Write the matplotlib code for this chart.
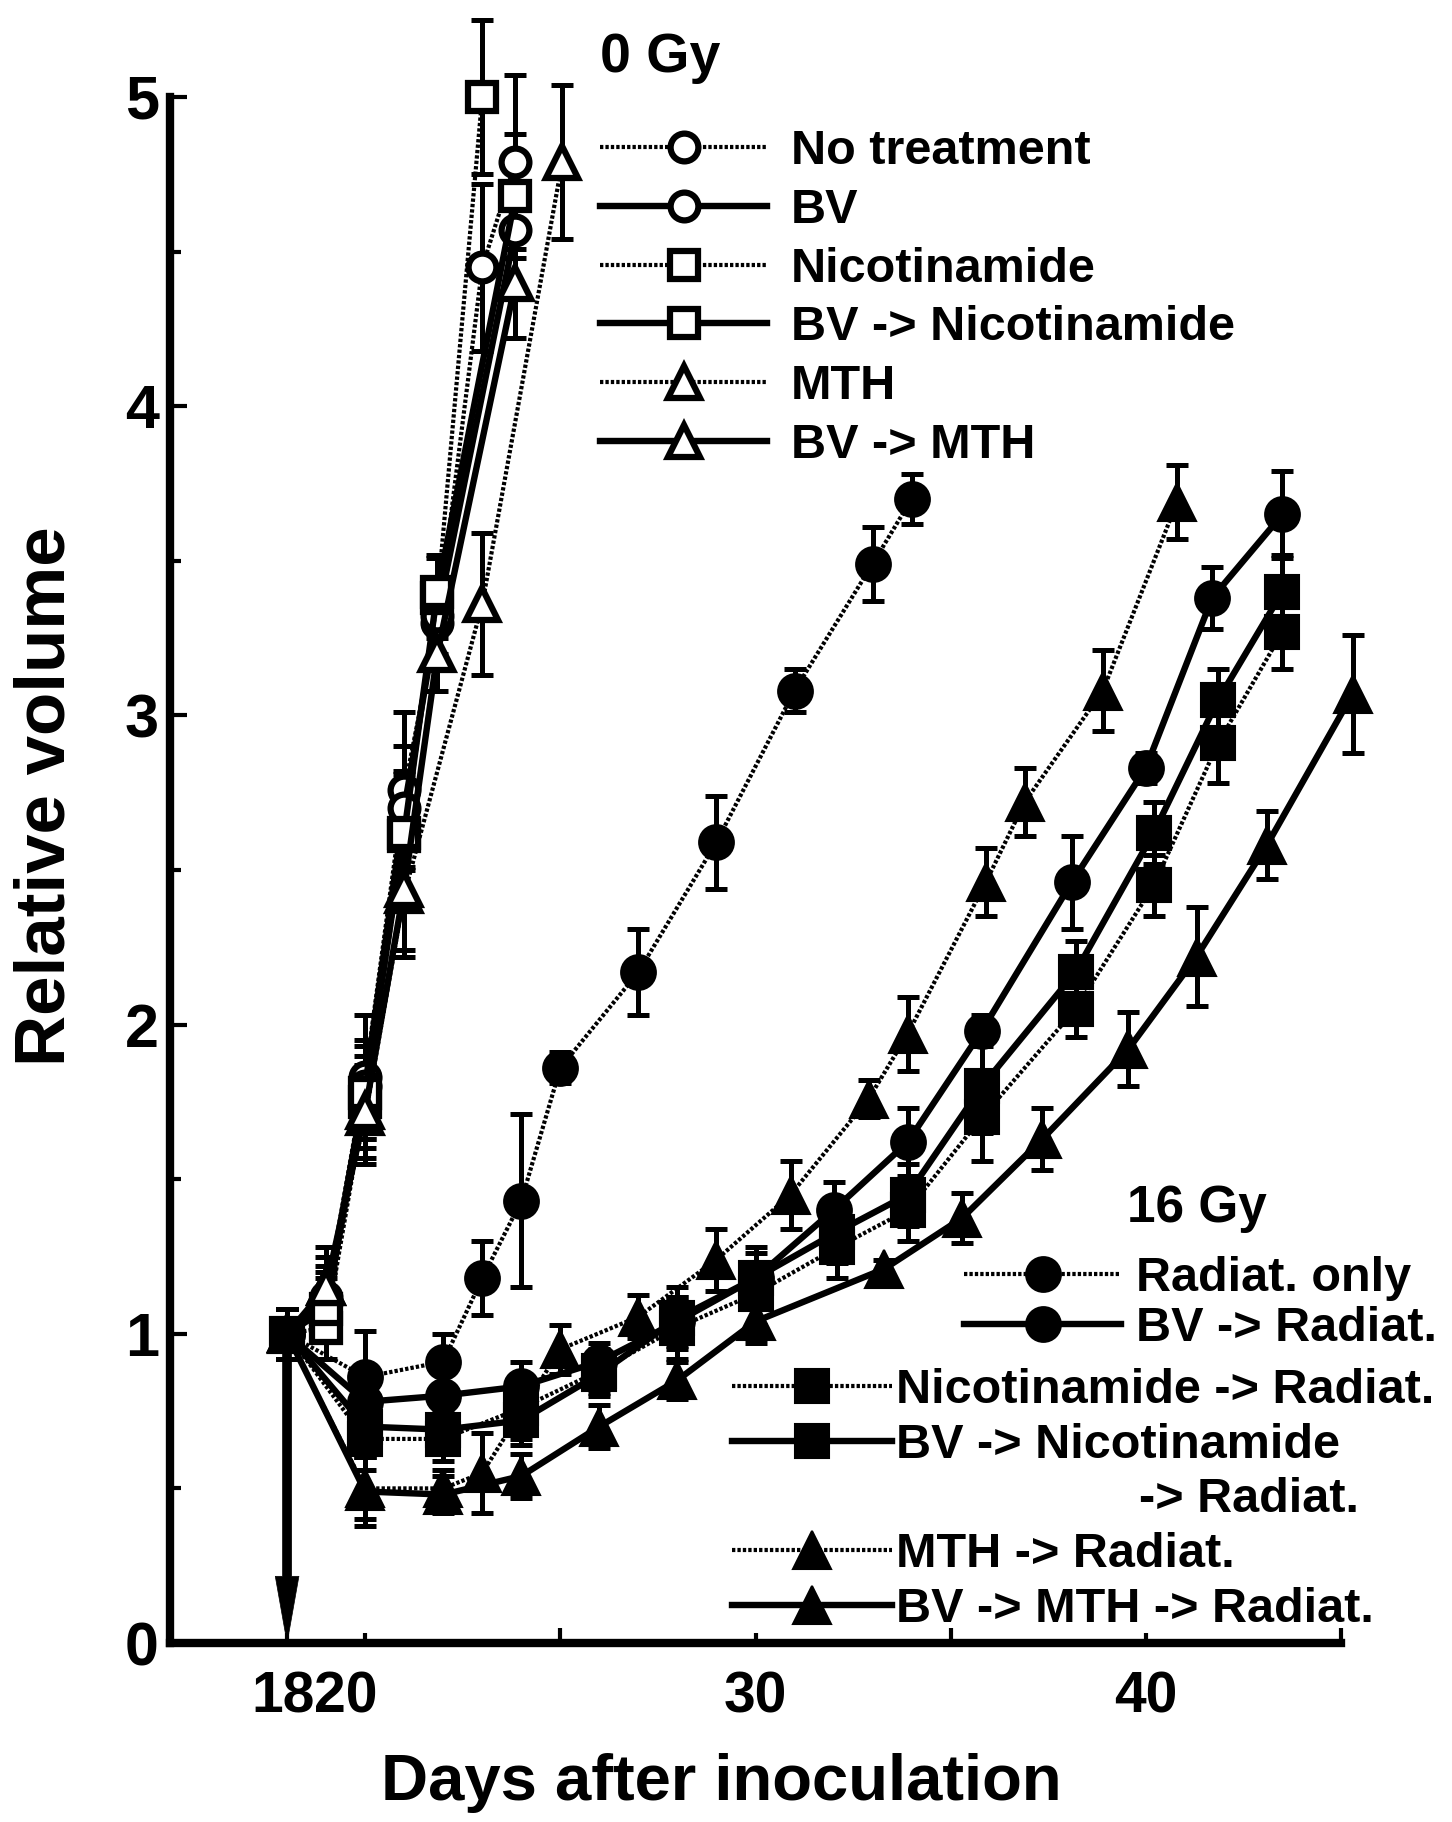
import matplotlib
matplotlib.use("Agg")
import matplotlib.pyplot as plt
import matplotlib.transforms as mtransforms
from matplotlib.lines import Line2D

plt.rcParams['font.family'] = ['Liberation Sans', 'DejaVu Sans']
plt.rcParams['font.weight'] = 'bold'

# ---------------- data: 0 Gy ----------------
nt_days = [18, 19, 20, 21, 21.85, 23, 23.85]
nt_vol = [1.0, 1.12, 1.83, 2.76, 3.30, 4.45, 4.79]
nt_err = [0.08, 0.10, 0.20, 0.25, 0.12, 0.27, 0.28]

bv_days = [18, 19, 20, 21, 21.85, 23.85]
bv_vol = [1.0, 1.10, 1.80, 2.70, 3.32, 4.57]
bv_err = [0.08, 0.10, 0.15, 0.20, 0.12, 0.20]

nic_days = [18, 19, 20, 21, 21.85, 23]
nic_vol = [1.0, 1.02, 1.75, 2.61, 3.38, 5.0]
nic_err = [0.08, 0.10, 0.15, 0.20, 0.13, 0.25]

bvnic_days = [18, 19, 20, 21, 21.85, 23.85]
bvnic_vol = [1.0, 1.08, 1.78, 2.62, 3.40, 4.68]
bvnic_err = [0.08, 0.10, 0.15, 0.20, 0.12, 0.20]

mth_days = [18, 19, 20, 21, 23, 25.05]
mth_vol = [1.0, 1.15, 1.70, 2.42, 3.36, 4.79]
mth_err = [0.08, 0.13, 0.15, 0.20, 0.23, 0.25]

bvmth_days = [18, 19, 20, 21, 21.85, 23.85]
bvmth_vol = [1.0, 1.15, 1.72, 2.44, 3.20, 4.40]
bvmth_err = [0.08, 0.10, 0.15, 0.20, 0.12, 0.18]

# ---------------- data: 16 Gy ----------------
rad_days = [18, 20, 22, 23, 24, 25, 27, 29, 31, 33, 34]
rad_vol = [1.0, 0.86, 0.91, 1.18, 1.43, 1.86, 2.17, 2.59, 3.08, 3.49, 3.70]
rad_err = [0.08, 0.15, 0.09, 0.12, 0.28, 0.05, 0.14, 0.15, 0.07, 0.12, 0.08]

bvrad_days = [18, 20, 22, 24, 26, 28, 30, 32, 33.9, 35.8, 38.1, 40.0, 41.7, 43.5]
bvrad_vol = [1.0, 0.78, 0.80, 0.83, 0.91, 1.04, 1.18, 1.40, 1.62, 1.98, 2.46, 2.83, 3.38, 3.65]
bvrad_err = [0.08, 0.10, 0.07, 0.08, 0.06, 0.08, 0.08, 0.09, 0.11, 0.05, 0.15, 0.05, 0.10, 0.14]

nicrad_days = [18, 20, 22, 24, 26, 28, 30, 32.1, 33.9, 35.8, 38.2, 40.2, 41.85, 43.5]
nicrad_vol = [1.0, 0.66, 0.66, 0.76, 0.88, 1.02, 1.13, 1.28, 1.40, 1.70, 2.05, 2.45, 2.91, 3.27]
nicrad_err = [0.08, 0.10, 0.07, 0.10, 0.07, 0.10, 0.10, 0.10, 0.10, 0.14, 0.09, 0.10, 0.13, 0.12]

bvnicrad_days = [18, 20, 22, 24, 26, 28, 30, 32.1, 33.9, 35.8, 38.2, 40.2, 41.85, 43.5]
bvnicrad_vol = [1.0, 0.70, 0.69, 0.72, 0.87, 1.05, 1.18, 1.33, 1.45, 1.80, 2.17, 2.62, 3.05, 3.40]
bvnicrad_err = [0.08, 0.10, 0.06, 0.08, 0.07, 0.10, 0.10, 0.10, 0.10, 0.15, 0.10, 0.10, 0.10, 0.12]

mthrad_days = [18, 20, 22, 23, 25, 27, 29, 30.9, 32.9, 33.9, 35.9, 36.9, 38.9, 40.8]
mthrad_vol = [1.0, 0.50, 0.50, 0.55, 0.95, 1.055, 1.24, 1.45, 1.76, 1.97, 2.46, 2.72, 3.08, 3.69]
mthrad_err = [0.08, 0.10, 0.06, 0.13, 0.08, 0.07, 0.10, 0.11, 0.06, 0.12, 0.11, 0.11, 0.13, 0.12]

bvmthrad_days = [18, 20, 22, 24, 26, 28, 30, 33.3, 35.3, 37.35, 39.55, 41.3, 43.1, 45.3]
bvmthrad_vol = [1.0, 0.49, 0.48, 0.54, 0.70, 0.85, 1.04, 1.21, 1.375, 1.63, 1.92, 2.22, 2.58, 3.07]
bvmthrad_err = [0.08, 0.11, 0.06, 0.07, 0.07, 0.06, 0.07, 0.03, 0.08, 0.10, 0.12, 0.16, 0.11, 0.19]

labels_0gy = ["No treatment", "BV", "Nicotinamide", "BV -> Nicotinamide", "MTH", "BV -> MTH"]
labels_16gy = ["Radiat. only", "BV -> Radiat.", "Nicotinamide -> Radiat.",
               "BV -> Nicotinamide", "MTH -> Radiat.", "BV -> MTH -> Radiat."]
label_16gy_cont = "-> Radiat."

x_tick_vals = [18, 20, 30, 40]
x_tick_labels = ["18", "20", "30", "40"]
y_tick_vals = [0, 1, 2, 3, 4, 5]

# ---------------- figure ----------------
W, H = 1452, 1822
fig = plt.figure(figsize=(W / 100, H / 100), dpi=100)
ax = fig.add_axes([170 / W, (H - 1643) / H, (1341 - 170) / W, (1643 - 97) / H])

SOLID = dict(linestyle='-', linewidth=4.6)
DOT = dict(linestyle=(0, (0.8, 0.5)), linewidth=3.0)

series = [
    (nt_days, nt_vol, nt_err, DOT, 'o', False, 20),
    (bv_days, bv_vol, bv_err, SOLID, 'o', False, 20),
    (nic_days, nic_vol, nic_err, DOT, 's', False, 20),
    (bvnic_days, bvnic_vol, bvnic_err, SOLID, 's', False, 20),
    (mth_days, mth_vol, mth_err, DOT, '^', False, 23),
    (bvmth_days, bvmth_vol, bvmth_err, SOLID, '^', False, 23),
    (rad_days, rad_vol, rad_err, DOT, 'o', True, 25),
    (bvrad_days, bvrad_vol, bvrad_err, SOLID, 'o', True, 25),
    (nicrad_days, nicrad_vol, nicrad_err, DOT, 's', True, 25),
    (bvnicrad_days, bvnicrad_vol, bvnicrad_err, SOLID, 's', True, 25),
    (mthrad_days, mthrad_vol, mthrad_err, DOT, '^', True, 27),
    (bvmthrad_days, bvmthrad_vol, bvmthrad_err, SOLID, '^', True, 27),
]

handles = []
for days, vol, err, ls, mk, filled, ms in series:
    eb = ax.errorbar(days, vol, yerr=err, fmt='none', ecolor='black',
                     elinewidth=3.6, capsize=8, capthick=3.6, zorder=2)
    for a in eb.get_children():
        a.set_clip_on(False)
    ln, = ax.plot(days, vol, color='black', marker=mk, markersize=ms,
                  markerfacecolor='black' if filled else 'white',
                  markeredgecolor='black', markeredgewidth=1.5 if filled else 4.5,
                  clip_on=False, zorder=3, **ls)
    handles.append(ln)

# arrow at irradiation day
ax.annotate('', xy=(18, 0), xytext=(18, 0.955),
            arrowprops=dict(width=6.5, headwidth=17, headlength=48,
                            facecolor='black', edgecolor='black', lw=0.5,
                            shrink=0), zorder=4)

# axes styling
ax.set_xlim(15, 45)
ax.set_ylim(0, 5)
for s in ['top', 'right']:
    ax.spines[s].set_visible(False)
for s in ['left', 'bottom']:
    ax.spines[s].set_linewidth(6)
    ax.spines[s].set_capstyle('projecting')

ax.set_xticks(x_tick_vals)
ax.set_xticklabels(x_tick_labels)
ax.set_xticks([25, 35, 45], minor=True)
ax.set_yticks(y_tick_vals)
ax.set_yticks([0.5, 1.5, 2.5, 3.5, 4.5], minor=True)

ax.tick_params(axis='x', which='major', direction='in', length=7, width=3,
               pad=20, labelsize=41)
ax.tick_params(axis='x', which='minor', direction='in', length=10.5, width=3)
ax.tick_params(axis='y', which='major', direction='in', length=12, width=3,
               pad=8, labelsize=44)
ax.tick_params(axis='y', which='minor', direction='in', length=8, width=3)

# nudge the crowded "18" / "20" labels like the original
shift_px = {"18": -4, "20": -19}
for lbl in ax.get_xticklabels():
    t = lbl.get_text()
    if t in shift_px:
        lbl.set_transform(lbl.get_transform() +
                          mtransforms.ScaledTranslation(shift_px[t] / 100, 0,
                                                        fig.dpi_scale_trans))

ax.set_xlabel("Days after inoculation", fontsize=47, fontweight='bold')
ax.set_ylabel("Relative volume", fontsize=51, fontweight='bold')
ax.xaxis.set_label_coords((721 - 170) / (1341 - 170), -(1783 - 1643) / (1643 - 97))
ax.xaxis.label.set_va('center')
ax.yaxis.set_label_coords((47 - 170) / (1341 - 170), (1643 - 796) / (1643 - 97))
ax.yaxis.label.set_va('center')

# legends
LEG_FS = 35
leg1 = fig.legend(handles[0:6], labels_0gy, loc='upper left',
                  bbox_to_anchor=(600 / W, 1 - 129.5 / H), frameon=False,
                  fontsize=LEG_FS, handlelength=3.44, handletextpad=0.48,
                  labelspacing=0.28, borderpad=0, borderaxespad=0, numpoints=1)
leg2 = fig.legend(handles[6:8], labels_16gy[0:2], loc='upper left',
                  bbox_to_anchor=(964 / W, 1 - 1256 / H), frameon=False,
                  fontsize=LEG_FS, handlelength=3.23, handletextpad=0.31,
                  labelspacing=0.11, borderpad=0, borderaxespad=0, numpoints=1)
blank = Line2D([], [], linestyle='none', marker='none')
leg3 = fig.legend([handles[8], handles[9], blank, handles[10], handles[11]],
                  [labels_16gy[2], labels_16gy[3],
                   " " * 18 + label_16gy_cont, labels_16gy[4], labels_16gy[5]],
                  loc='upper left', bbox_to_anchor=(732 / W, 1 - 1368 / H),
                  frameon=False, fontsize=LEG_FS, handlelength=3.29,
                  handletextpad=0.08, labelspacing=0.20, borderpad=0,
                  borderaxespad=0, numpoints=1)

fig.text(600 / W, 1 - 72 / H, "0 Gy", fontsize=40, fontweight='bold',
         ha='left', va='baseline')
fig.text(1127 / W, 1 - 1222 / H, "16 Gy", fontsize=37, fontweight='bold',
         ha='left', va='baseline')

fig.savefig("out.png", dpi=100, facecolor='white')
